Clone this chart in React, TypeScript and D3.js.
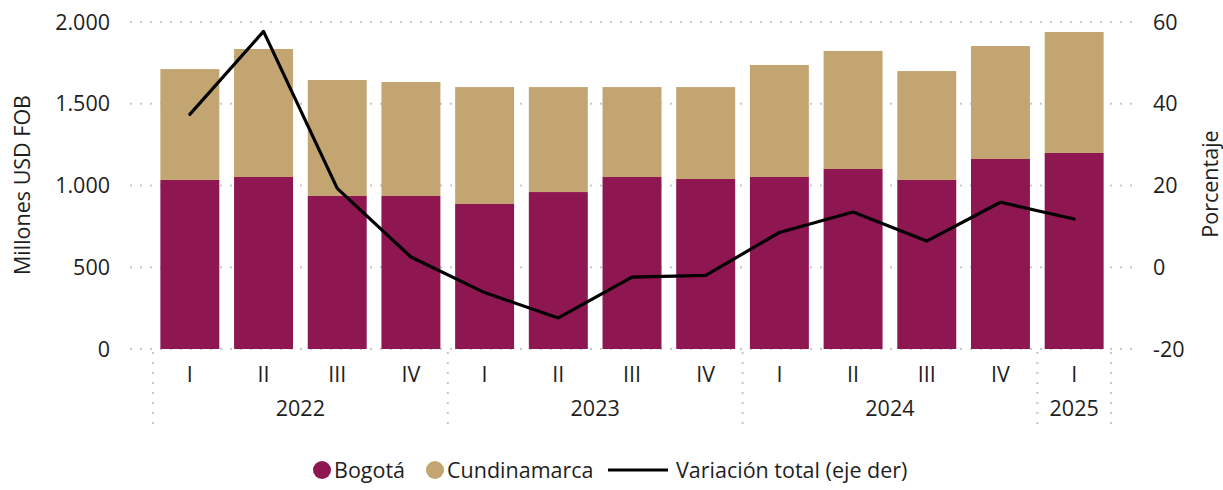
import React from "react";
import * as d3 from "d3";

const quarters = ["I", "II", "III", "IV", "I", "II", "III", "IV", "I", "II", "III", "IV", "I"];
const years = ["2022", "2022", "2022", "2022", "2023", "2023", "2023", "2023", "2024", "2024", "2024", "2024", "2025"];
const bogota = [1034, 1052, 936, 936, 887, 960, 1052, 1040, 1052, 1101, 1034, 1162, 1199];
const totals = [1712, 1835, 1645, 1633, 1602, 1602, 1602, 1602, 1737, 1823, 1700, 1853, 1939];
const cundinamarca = totals.map((t, i) => t - bogota[i]);
const variacion = [37.4, 57.7, 19.3, 2.5, -6.2, -12.4, -2.4, -2.0, 8.5, 13.5, 6.4, 15.9, 11.8];
const leftTicks = [0, 500, 1000, 1500, 2000];
const rightTicks = [-20, 0, 20, 40, 60];

const W = 1223;
const H = 490;
const FONT = "'Open Sans', 'Noto Sans', sans-serif";
const FS = 21.5;
const C_BOG = "#8E1751";
const C_CUN = "#C3A571";
const GRID = "#c8c8c8";
const TXT = "#1e1e1e";

const fmt = (v: number) => d3.format(",")(v).replace(/,/g, ".");

export default function App() {
  const idx = quarters.map((_, i) => String(i));
  const x = d3.scaleBand<string>().domain(idx).range([153, 1111]).paddingInner(0.2).paddingOuter(0.1);
  const yL = d3.scaleLinear().domain([0, 2000]).range([349, 22]);
  const yR = d3.scaleLinear().domain([-20, 60]).range([349, 22]);

  const line = d3
    .line<number>()
    .x((_, i) => (x(String(i)) as number) + x.bandwidth() / 2)
    .y((d) => yR(d));

  const groups: { year: string; start: number; end: number }[] = [];
  years.forEach((y, i) => {
    const g = groups[groups.length - 1];
    if (g && g.year === y) g.end = i;
    else groups.push({ year: y, start: i, end: i });
  });
  const step = x.step();
  const bandStart = (i: number) => (x(String(i)) as number) - (step - x.bandwidth()) / 2;
  const seps = groups.map((g) => bandStart(g.start));
  seps.push(bandStart(groups[groups.length - 1].end) + step);

  return (
    <svg width={W} height={H} style={{ position: "absolute", left: 0, top: 0, background: "#fff" }} fontFamily={FONT}>
      {leftTicks.map((t) => (
        <line key={"g" + t} x1={130} x2={1133} y1={yL(t)} y2={yL(t)} stroke={GRID} strokeWidth={2} strokeDasharray="2 8" />
      ))}
      {seps.map((s, i) => (
        <line key={"s" + i} x1={s} x2={s} y1={352} y2={428} stroke={GRID} strokeWidth={2} strokeDasharray="2 8" />
      ))}
      {idx.map((k, i) => (
        <g key={"b" + k}>
          <rect x={x(k)} width={x.bandwidth()} y={yL(bogota[i])} height={yL(0) - yL(bogota[i])} fill={C_BOG} />
          <rect
            x={x(k)}
            width={x.bandwidth()}
            y={yL(bogota[i] + cundinamarca[i])}
            height={yL(bogota[i]) - yL(bogota[i] + cundinamarca[i])}
            fill={C_CUN}
          />
        </g>
      ))}
      <path d={line(variacion) || ""} fill="none" stroke="#000" strokeWidth={3.2} strokeLinejoin="round" strokeLinecap="round" />
      {leftTicks.map((t) => (
        <text key={"l" + t} x={110} y={yL(t)} dy="0.35em" textAnchor="end" fontSize={FS} fill={TXT}>
          {fmt(t)}
        </text>
      ))}
      {rightTicks.map((t) => (
        <text key={"r" + t} x={1153} y={yR(t)} dy="0.35em" textAnchor="start" fontSize={FS} fill={TXT}>
          {t}
        </text>
      ))}
      <text transform={`translate(30,185) rotate(-90)`} textAnchor="middle" fontSize={FS} fill={TXT}>
        Millones USD FOB
      </text>
      <text transform={`translate(1218,184) rotate(-90)`} textAnchor="middle" fontSize={FS} fill={TXT}>
        Porcentaje
      </text>
      {idx.map((k, i) => (
        <text key={"q" + k} x={(x(k) as number) + x.bandwidth() / 2} y={374} dy="0.35em" textAnchor="middle" fontSize={FS} fill={TXT}>
          {quarters[i]}
        </text>
      ))}
      {groups.map((g) => (
        <text
          key={"y" + g.year}
          x={(bandStart(g.start) + bandStart(g.end) + step) / 2}
          y={408}
          dy="0.35em"
          textAnchor="middle"
          fontSize={FS}
          fill={TXT}
        >
          {g.year}
        </text>
      ))}
      <g fontSize={FS} fill={TXT}>
        <circle cx={322} cy={470} r={9} fill={C_BOG} />
        <text x={334} y={470} dy="0.35em">Bogotá</text>
        <circle cx={435} cy={470} r={9} fill={C_CUN} />
        <text x={447} y={470} dy="0.35em">Cundinamarca</text>
        <line x1={608} x2={668} y1={470} y2={470} stroke="#000" strokeWidth={3.2} />
        <text x={676} y={470} dy="0.35em">Variación total (eje der)</text>
      </g>
    </svg>
  );
}
